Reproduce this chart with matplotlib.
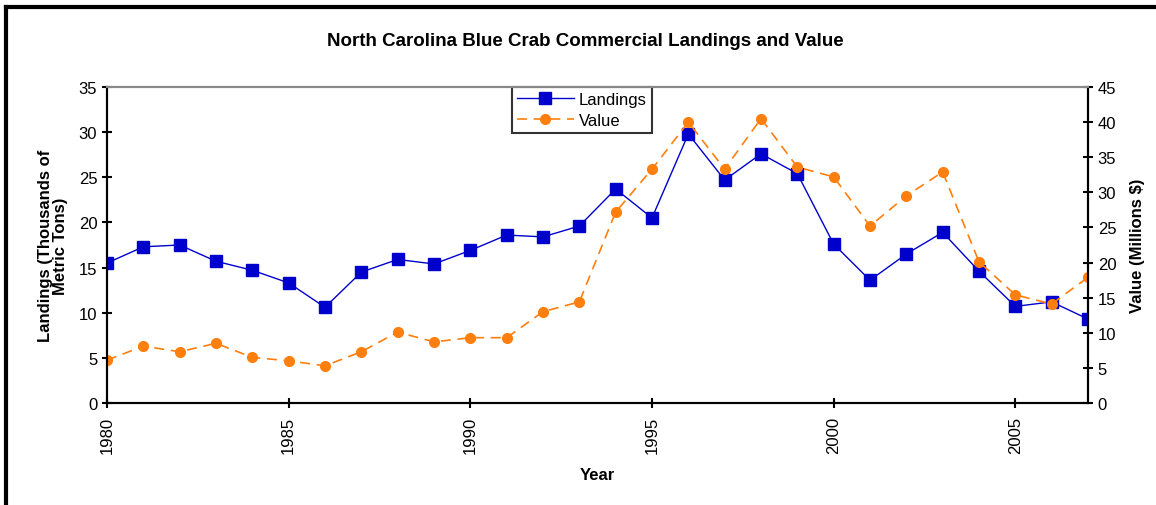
import numpy as np
import matplotlib
matplotlib.use("Agg")
import matplotlib.pyplot as plt
from matplotlib.lines import Line2D

plt.rcParams['font.family'] = ['Liberation Sans', 'DejaVu Sans']

years = list(range(1980, 2008))
landings = [15.5, 17.3, 17.5, 15.7, 14.7, 13.3, 10.6, 14.5, 15.9, 15.4,
            16.9, 18.6, 18.4, 19.6, 23.7, 20.5, 29.8, 24.7, 27.6, 25.4,
            17.6, 13.6, 16.5, 18.9, 14.6, 10.7, 11.2, 9.3]
value = [6.1, 8.1, 7.3, 8.5, 6.5, 6.0, 5.3, 7.3, 10.1, 8.7,
         9.3, 9.3, 13.0, 14.4, 27.2, 33.3, 40.0, 33.3, 40.5, 33.6,
         32.2, 25.2, 29.5, 32.9, 20.1, 15.4, 14.1, 17.9]
year_ticks = [1980, 1985, 1990, 1995, 2000, 2005]

fig = plt.figure(figsize=(11.56, 5.06), dpi=100)
ax = fig.add_axes([107/1156, 1-404/506, (1088-107)/1156, (404-88)/506])
ax2 = ax.twinx()

l1, = ax.plot(years, landings, color='#0000cc', lw=1, marker='s', ms=9,
              label='Landings', zorder=3)
l2, = ax2.plot(years, value, color='#ff7f0e', lw=1.2, ls=(0, (6, 4)),
               marker='o', ms=7, label='Value')

ax.set_xlim(1980, 2007)
ax.set_ylim(0, 35)
ax2.set_ylim(0, 45)
ax.set_xticks(year_ticks)
ax.set_xticklabels([str(y) for y in year_ticks], rotation=90)
ax.set_yticks(np.arange(0, 36, 5))
ax2.set_yticks(np.arange(0, 46, 5))

for a in (ax, ax2):
    a.tick_params(direction='inout', length=7, width=1.5, labelsize=12)
    a.tick_params(axis='x', pad=6)
    a.spines['top'].set_color('#888888')
    a.spines['top'].set_linewidth(1.5)
    for s in ('left', 'right', 'bottom'):
        a.spines[s].set_linewidth(1.5)

ax.set_xlabel('Year', fontsize=12, fontweight='bold', labelpad=10)
ax.set_ylabel('Landings (Thousands of\nMetric Tons)', fontsize=12,
              fontweight='bold', labelpad=8, linespacing=1.0)
ax2.set_ylabel('Value (Millions $)', fontsize=12, fontweight='bold',
               labelpad=10)
fig.text(585/1156, 1-42/506, 'North Carolina Blue Crab Commercial Landings and Value',
         ha='center', va='center', fontsize=13.5, fontweight='bold')

leg = ax.legend(handles=[l1, l2], loc='upper left',
                bbox_to_anchor=((512-107)/(1088-107), 1.0), fontsize=12,
                frameon=True, fancybox=False, borderpad=0.3,
                handlelength=3.4, handletextpad=0.3, labelspacing=0.35,
                borderaxespad=0)
leg.get_frame().set_edgecolor('black')
leg.get_frame().set_linewidth(1.5)

# figure border lines (top and left)
fig.add_artist(Line2D([6/1156, 1], [1-8/506, 1-8/506], color='black', lw=3,
                      transform=fig.transFigure))
fig.add_artist(Line2D([6/1156, 6/1156], [0, 1-8/506], color='black', lw=3,
                      transform=fig.transFigure))

fig.savefig('out.png', dpi=100)
